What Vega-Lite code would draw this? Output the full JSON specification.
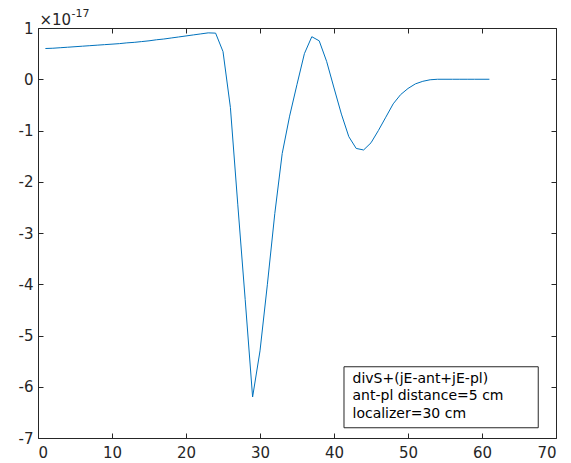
{
  "$schema": "https://vega.github.io/schema/vega-lite/v6.json",
  "width": 518,
  "height": 410,
  "autosize": "none",
  "padding": {"left": 38, "top": 28, "right": 15, "bottom": 25},
  "background": "white",
  "config": {
    "view": {"stroke": null},
    "axis": {
      "grid": false,
      "domainColor": "#262626",
      "tickColor": "#262626",
      "labelColor": "#262626",
      "labelFont": "DejaVu Sans",
      "labelFontSize": 15,
      "tickSize": -5,
      "title": null
    }
  },
  "resolve": {"axis": {"x": "independent", "y": "independent"}},
  "layer": [
    {
      "data": {
        "values": [
          {"x": 1, "y": 0.60}, {"x": 2, "y": 0.605}, {"x": 3, "y": 0.615}, {"x": 4, "y": 0.625},
          {"x": 5, "y": 0.635}, {"x": 6, "y": 0.645}, {"x": 7, "y": 0.655}, {"x": 8, "y": 0.665},
          {"x": 9, "y": 0.675}, {"x": 10, "y": 0.685}, {"x": 11, "y": 0.695}, {"x": 12, "y": 0.71},
          {"x": 13, "y": 0.72}, {"x": 14, "y": 0.735}, {"x": 15, "y": 0.75}, {"x": 16, "y": 0.77},
          {"x": 17, "y": 0.785}, {"x": 18, "y": 0.805}, {"x": 19, "y": 0.825}, {"x": 20, "y": 0.845},
          {"x": 21, "y": 0.865}, {"x": 22, "y": 0.885}, {"x": 23, "y": 0.905}, {"x": 24, "y": 0.9},
          {"x": 25, "y": 0.54}, {"x": 26, "y": -0.55}, {"x": 27, "y": -2.45}, {"x": 28, "y": -4.3},
          {"x": 29, "y": -6.2}, {"x": 30, "y": -5.3}, {"x": 31, "y": -4.0}, {"x": 32, "y": -2.62},
          {"x": 33, "y": -1.45}, {"x": 34, "y": -0.72}, {"x": 35, "y": -0.1}, {"x": 36, "y": 0.5},
          {"x": 37, "y": 0.83}, {"x": 38, "y": 0.75}, {"x": 39, "y": 0.35}, {"x": 40, "y": -0.17},
          {"x": 41, "y": -0.68}, {"x": 42, "y": -1.12}, {"x": 43, "y": -1.35}, {"x": 44, "y": -1.38},
          {"x": 45, "y": -1.24}, {"x": 46, "y": -1.0}, {"x": 47, "y": -0.74}, {"x": 48, "y": -0.48},
          {"x": 49, "y": -0.3}, {"x": 50, "y": -0.18}, {"x": 51, "y": -0.09}, {"x": 52, "y": -0.04},
          {"x": 53, "y": -0.01}, {"x": 54, "y": 0}, {"x": 55, "y": 0}, {"x": 56, "y": 0},
          {"x": 57, "y": 0}, {"x": 58, "y": 0}, {"x": 59, "y": 0}, {"x": 60, "y": 0}, {"x": 61, "y": 0}
        ]
      },
      "mark": {"type": "line", "color": "#0072BD", "strokeWidth": 1},
      "encoding": {
        "x": {
          "field": "x", "type": "quantitative",
          "scale": {"domain": [0, 70], "nice": false, "zero": false},
          "axis": {"orient": "bottom", "labelPadding": 12, "values": [0, 10, 20, 30, 40, 50, 60, 70], "labelExpr": "'' + datum.value"}
        },
        "y": {
          "field": "y", "type": "quantitative",
          "scale": {"domain": [-7, 1], "nice": false, "zero": false},
          "axis": {
            "orient": "left", "labelPadding": 10, "values": [-7, -6, -5, -4, -3, -2, -1, 0, 1], "labelExpr": "'' + datum.value",
            "title": "×10", "titleFont": "DejaVu Sans", "titleFontSize": 15, "titleFontWeight": "normal", "titleColor": "#262626",
            "titleAngle": 0, "titleAlign": "left", "titleBaseline": "alphabetic", "titleX": 1, "titleY": -4
          }
        }
      }
    },
    {
      "data": {"values": [{"x1": 41.35, "x2": 67.6, "y1": -5.61, "y2": -6.8}]},
      "mark": {"type": "rect", "fill": "white", "stroke": "#262626", "strokeWidth": 1},
      "encoding": {
        "x": {
          "field": "x1", "type": "quantitative",
          "axis": {
            "orient": "top", "labels": false, "values": [0, 10, 20, 30, 40, 50, 60, 70],
            "title": "-17", "titleFont": "DejaVu Sans", "titleFontSize": 11, "titleFontWeight": "normal", "titleColor": "#262626",
            "titleAngle": 0, "titleAlign": "left", "titleBaseline": "alphabetic", "titleX": 33, "titleY": -12
          }
        },
        "x2": {"field": "x2"},
        "y": {"field": "y1", "type": "quantitative", "axis": {"orient": "right", "labels": false, "values": [-7, -6, -5, -4, -3, -2, -1, 0, 1]}},
        "y2": {"field": "y2"}
      }
    },
    {
      "data": {
        "values": [
          {"x": 42.5, "y": -5.84, "label": "divS+(jE-ant+jE-pl)"},
          {"x": 42.5, "y": -6.19, "label": "ant-pl distance=5 cm"},
          {"x": 42.5, "y": -6.54, "label": "localizer=30 cm"}
        ]
      },
      "mark": {"type": "text", "align": "left", "baseline": "middle", "font": "DejaVu Sans", "fontSize": 14, "color": "#000000"},
      "encoding": {
        "x": {"field": "x", "type": "quantitative", "axis": null},
        "y": {"field": "y", "type": "quantitative", "axis": null},
        "text": {"field": "label"}
      }
    }
  ]
}
